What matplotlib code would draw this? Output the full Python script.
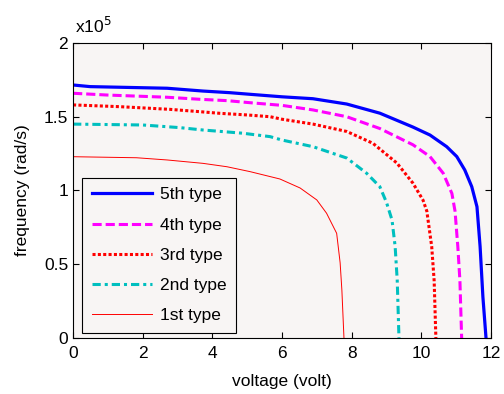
import numpy as np
import matplotlib
matplotlib.use('Agg')
import matplotlib.pyplot as plt

plt.rcParams['font.family'] = ['Liberation Sans', 'DejaVu Sans']
plt.rcParams['font.size'] = 12.5
plt.rcParams['xtick.direction'] = 'in'
plt.rcParams['ytick.direction'] = 'in'
plt.rcParams['xtick.top'] = True
plt.rcParams['ytick.right'] = True
plt.rcParams['xtick.major.size'] = 4
plt.rcParams['ytick.major.size'] = 4
plt.rcParams['xtick.major.pad'] = 6
plt.rcParams['axes.linewidth'] = 0.8

# voltage (volt) vs frequency (x10^5 rad/s)
v5 = [0, 0.49, 2.7, 3.73, 4.5, 5.08, 6.0, 6.89, 7.86, 8.81, 9.76, 10.25, 10.73,
      11.02, 11.25, 11.45, 11.6, 11.69, 11.77, 11.86]
f5 = [1.715, 1.704, 1.693, 1.674, 1.663, 1.652, 1.635, 1.622, 1.586, 1.524, 1.43,
      1.376, 1.297, 1.23, 1.139, 1.026, 0.89, 0.62, 0.28, 0]

v4 = [0, 0.98, 2.7, 3.65, 4.42, 5.08, 6.0, 6.89, 7.86, 8.81, 9.76, 10.25, 10.63,
      10.88, 10.97, 11.05, 11.11, 11.16]
f4 = [1.659, 1.647, 1.632, 1.618, 1.609, 1.595, 1.577, 1.546, 1.50, 1.42, 1.31,
      1.23, 1.117, 0.98, 0.86, 0.62, 0.39, 0]

v3 = [0, 1.35, 2.78, 3.65, 4.22, 5.0, 5.66, 6.0, 6.89, 7.86, 8.61, 9.3, 9.76,
      10.05, 10.16, 10.3, 10.37, 10.42]
f3 = [1.58, 1.568, 1.55, 1.534, 1.523, 1.512, 1.5, 1.483, 1.45, 1.40, 1.32, 1.186,
      1.05, 0.935, 0.86, 0.62, 0.39, 0]

v2 = [0, 2.0, 3.07, 3.73, 4.31, 4.88, 5.66, 6.0, 6.89, 7.86, 8.43, 8.81, 9.0,
      9.16, 9.25, 9.31, 9.36]
f2 = [1.45, 1.444, 1.426, 1.41, 1.399, 1.388, 1.365, 1.342, 1.297, 1.22, 1.117,
      1.026, 0.92, 0.80, 0.62, 0.39, 0]

v1 = [0, 1.82, 2.7, 3.73, 4.42, 5.08, 5.94, 6.52, 7.0, 7.28, 7.57, 7.67, 7.72, 7.78]
f1 = [1.229, 1.222, 1.207, 1.184, 1.161, 1.128, 1.078, 1.017, 0.936, 0.846, 0.71,
      0.51, 0.325, 0]

labels = ['5th type', '4th type', '3rd type', '2nd type', '1st type']
xticks = [0, 2, 4, 6, 8, 10, 12]
yticks = [0, 0.5, 1, 1.5, 2]

fig = plt.figure(figsize=(5.04, 3.94), dpi=100)
ax = fig.add_axes([0.145, 0.142, 0.829, 0.749])
ax.set_facecolor('#f8f5f4')

ax.plot(v5, f5, color='#0000ff', lw=2.3, label=labels[0])
ax.plot(v4, f4, color='#ff00ff', lw=2.2, linestyle=(0, (3, 1.3)), label=labels[1])
ax.plot(v3, f3, color='#ff0000', lw=2.2, linestyle=(0, (1, 0.75)), label=labels[2])
ax.plot(v2, f2, color='#00bfbf', lw=2.2, linestyle=(0, (2.7, 1.3, 1, 1.3)), label=labels[3])
ax.plot(v1, f1, color='#ff0000', lw=0.7, label=labels[4])

ax.set_xlim(0, 12)
ax.set_ylim(0, 2)
ax.set_xticks(xticks)
ax.set_yticks(yticks)
ax.set_yticklabels(['0', '0.5', '1', '1.5', '2'])
ax.text(0.005, 1.034, 'x10$^5$', transform=ax.transAxes, fontsize=12.5,
        ha='left', va='baseline')

ax.set_xlabel('voltage (volt)', labelpad=9)
ax.set_ylabel('frequency (rad/s)', labelpad=10)

leg = ax.legend(loc='lower left', bbox_to_anchor=(0.0215, 0.017), borderaxespad=0,
                fancybox=False, edgecolor='black', facecolor='#f8f5f4', framealpha=1,
                handlelength=3.45, handletextpad=0.5, labelspacing=0.87,
                borderpad=0.55)
leg.get_frame().set_linewidth(0.8)

fig.savefig('out.png', dpi=100)
